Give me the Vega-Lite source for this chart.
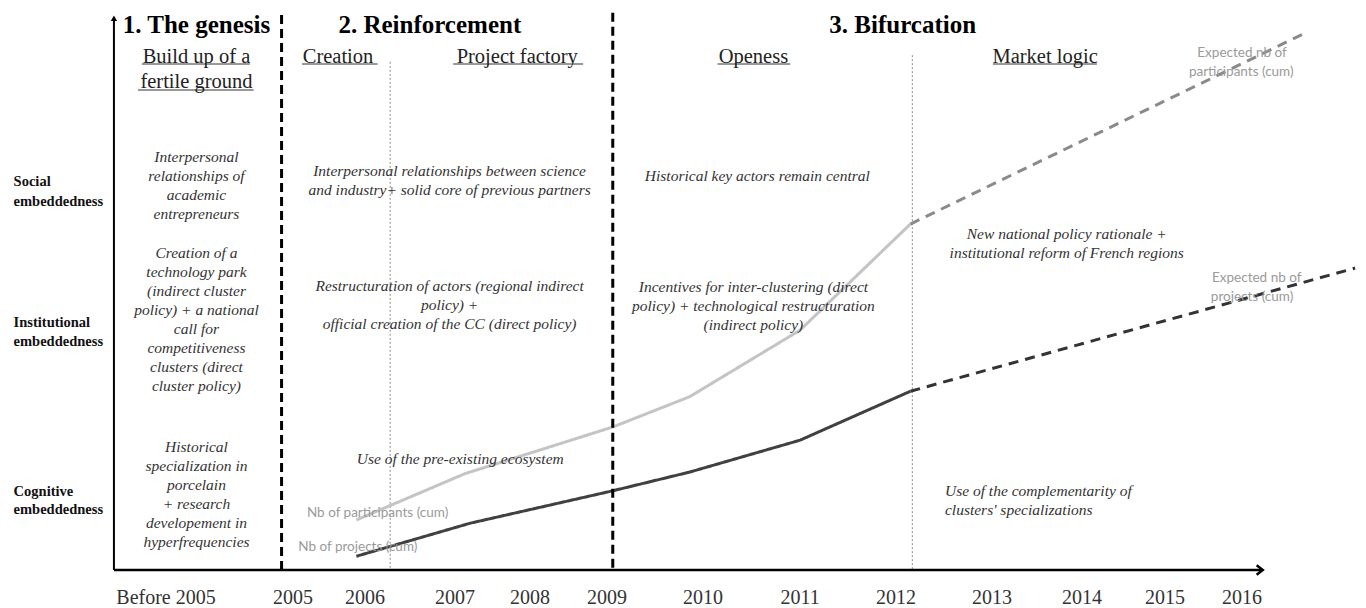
{
  "$schema": "https://vega.github.io/schema/vega-lite/v6.json",
  "width": 1366,
  "height": 608,
  "padding": 0,
  "autosize": {"type": "none"},
  "background": "white",
  "config": {"view": {"stroke": null}, "font": "Liberation Serif"},
  "datasets": {
    "series": [
      {"key": "participants", "kind": "observed", "year": 2005.88, "level": 9.1},
      {"key": "participants", "kind": "observed", "year": 2007.13, "level": 17.5},
      {"key": "participants", "kind": "observed", "year": 2009.06, "level": 26.0},
      {"key": "participants", "kind": "observed", "year": 2009.86, "level": 31.5},
      {"key": "participants", "kind": "observed", "year": 2011.0, "level": 43.6},
      {"key": "participants", "kind": "observed", "year": 2012.15, "level": 62.9},
      {"key": "participants expected", "kind": "expected", "year": 2012.15, "level": 62.9},
      {"key": "participants expected", "kind": "expected", "year": 2016.81, "level": 97.6},
      {"key": "projects", "kind": "observed", "year": 2005.88, "level": 2.5},
      {"key": "projects", "kind": "observed", "year": 2007.2, "level": 8.5},
      {"key": "projects", "kind": "observed", "year": 2009.06, "level": 14.4},
      {"key": "projects", "kind": "observed", "year": 2009.86, "level": 17.8},
      {"key": "projects", "kind": "observed", "year": 2011.0, "level": 23.6},
      {"key": "projects", "kind": "observed", "year": 2012.15, "level": 32.5},
      {"key": "projects expected", "kind": "expected", "year": 2012.15, "level": 32.5},
      {"key": "projects expected", "kind": "expected", "year": 2017.46, "level": 54.9}
    ],
    "phaseDividers": [
      {"year": 2004.91, "level": 100.9, "level2": 0},
      {"year": 2009.06, "level": 101.3, "level2": 0}
    ],
    "subDividers": [
      {"year": 2006.28, "level": 92.4, "level2": 0},
      {"year": 2012.17, "level": 93.6, "level2": 0}
    ],
    "headings": [
      {"label": "1. The genesis", "year": 2004.24, "level": 99.1},
      {"label": "2. Reinforcement", "year": 2006.72, "level": 99.1},
      {"label": "3. Bifurcation", "year": 2012.07, "level": 99.1}
    ],
    "subheads": [
      {"label": "Build up of a", "year": 2004.24, "level": 93.27},
      {"label": "fertile ground", "year": 2004.24, "level": 88.73},
      {"label": "Creation", "year": 2005.625, "level": 93.27},
      {"label": "Project factory", "year": 2007.83, "level": 93.27},
      {"label": "Openess", "year": 2010.52, "level": 93.27},
      {"label": "Market logic", "year": 2013.59, "level": 93.27}
    ],
    "underlines": [
      {"year": 2003.81, "year2": 2004.66, "level": 92.0},
      {"year": 2003.78, "year2": 2004.69, "level": 87.27},
      {"year": 2005.125, "year2": 2006.14, "level": 92.0},
      {"year": 2006.98, "year2": 2008.69, "level": 92.0},
      {"year": 2010.15, "year2": 2010.9, "level": 92.0},
      {"year": 2013.01, "year2": 2014.18, "level": 92.0}
    ],
    "rowLabels": [
      {"label": "Social", "year": 2002.8, "level": 70.55},
      {"label": "embeddedness", "year": 2002.8, "level": 66.91},
      {"label": "Institutional", "year": 2002.8, "level": 44.91},
      {"label": "embeddedness", "year": 2002.8, "level": 41.45},
      {"label": "Cognitive", "year": 2002.8, "level": 14.18},
      {"label": "embeddedness", "year": 2002.8, "level": 10.91}
    ],
    "bodyCentered": [
      {"label": "Interpersonal\nrelationships of\nacademic\nentrepreneurs", "year": 2004.24, "level": 76.36},
      {"label": "Creation of a\ntechnology park\n(indirect cluster\npolicy) + a national\ncall for\ncompetitiveness\nclusters (direct\ncluster policy)", "year": 2004.24, "level": 58.91},
      {"label": "Historical\nspecialization in\nporcelain\n+ research\ndevelopement in\nhyperfrequencies", "year": 2004.24, "level": 23.64},
      {"label": "Interpersonal relationships between science\nand industry+ solid core of previous partners", "year": 2006.94, "level": 73.82},
      {"label": "Restructuration of actors (regional indirect\npolicy) +\nofficial creation of the CC (direct policy)", "year": 2006.94, "level": 52.91},
      {"label": "Use of the pre-existing ecosystem", "year": 2007.07, "level": 21.45},
      {"label": "Historical key actors remain central", "year": 2010.56, "level": 72.91},
      {"label": "Incentives for inter-clustering (direct\npolicy) + technological restructuration\n(indirect policy)", "year": 2010.52, "level": 52.73},
      {"label": "New national policy rationale +\ninstitutional reform of French regions", "year": 2013.83, "level": 62.36}
    ],
    "bodyLeft": [
      {"label": "Use of the complementarity of\nclusters' specializations", "year": 2012.51, "level": 15.64}
    ],
    "seriesLabels": [
      {"label": "Nb of participants (cum)", "year": 2006.14, "level": 10.36},
      {"label": "Nb of projects (cum)", "year": 2005.9, "level": 4.18},
      {"label": "Expected nb of", "year": 2016.0, "level": 94.0},
      {"label": "participants (cum)", "year": 2015.99, "level": 90.5},
      {"label": "Expected nb of", "year": 2016.19, "level": 53.1},
      {"label": "projects (cum)", "year": 2016.13, "level": 49.6}
    ],
    "yearLabels": [
      {"label": "Before 2005", "year": 2004, "level": -5.1},
      {"label": "2005", "year": 2005, "level": -5.1},
      {"label": "2006", "year": 2006, "level": -5.1},
      {"label": "2007", "year": 2007, "level": -5.1},
      {"label": "2008", "year": 2008, "level": -5.1},
      {"label": "2009", "year": 2009, "level": -5.1},
      {"label": "2010", "year": 2010, "level": -5.1},
      {"label": "2011", "year": 2011, "level": -5.1},
      {"label": "2012", "year": 2012, "level": -5.1},
      {"label": "2013", "year": 2013, "level": -5.1},
      {"label": "2014", "year": 2014, "level": -5.1},
      {"label": "2015", "year": 2015, "level": -5.1},
      {"label": "2016", "year": 2016, "level": -5.1}
    ],
    "yAxis": [{"year": 2003.59, "level": 0, "level2": 100.3}],
    "xAxis": [{"year": 2003.59, "year2": 2016.25, "level": 0}],
    "yArrow": [{"year": 2003.59, "level": 100.3}],
    "xArrow": [{"year": 2016.25, "level": 0}]
  },
  "encoding": {
    "x": {
      "field": "year",
      "type": "quantitative",
      "axis": null,
      "scale": {
        "type": "linear",
        "domain": [2003, 2004, 2005, 2006, 2007, 2008, 2009, 2010, 2011, 2012, 2013, 2014, 2015, 2016, 2017.6],
        "range": [39, 166, 293, 365, 455, 530, 607, 703, 800, 896, 992, 1082, 1165, 1242, 1366],
        "zero": false,
        "nice": false
      }
    },
    "y": {
      "field": "level",
      "type": "quantitative",
      "axis": null,
      "scale": {"type": "linear", "domain": [0, 100], "range": [570, 20], "zero": false, "nice": false}
    }
  },
  "layer": [
    {
      "data": {"name": "subDividers"},
      "mark": {"type": "rule", "color": "#8a8a8a", "strokeWidth": 1, "strokeDash": [2, 2]},
      "encoding": {"y2": {"field": "level2"}}
    },
    {
      "data": {"name": "series"},
      "mark": {"type": "line", "strokeWidth": 3, "strokeCap": "butt"},
      "encoding": {
        "color": {
          "field": "key",
          "type": "nominal",
          "legend": null,
          "scale": {
            "domain": ["participants", "participants expected", "projects", "projects expected"],
            "range": ["#c4c4c4", "#8a8a8a", "#404040", "#333333"]
          }
        },
        "strokeDash": {
          "field": "kind",
          "type": "nominal",
          "legend": null,
          "scale": {"domain": ["observed", "expected"], "range": [[1, 0], [10, 7]]}
        }
      }
    },
    {
      "data": {"name": "phaseDividers"},
      "mark": {"type": "rule", "color": "#000000", "strokeWidth": 3, "strokeDash": [9, 5]},
      "encoding": {"y2": {"field": "level2"}}
    },
    {
      "data": {"name": "yAxis"},
      "mark": {"type": "rule", "color": "#000000", "strokeWidth": 2},
      "encoding": {"y2": {"field": "level2"}}
    },
    {
      "data": {"name": "xAxis"},
      "mark": {"type": "rule", "color": "#000000", "strokeWidth": 2.5},
      "encoding": {"x2": {"field": "year2"}}
    },
    {
      "data": {"name": "yArrow"},
      "mark": {"type": "point", "shape": "triangle-up", "filled": true, "color": "#000000", "size": 40, "opacity": 1}
    },
    {
      "data": {"name": "xArrow"},
      "mark": {"type": "point", "shape": "M-1,-1L0.3,0L-1,1", "filled": false, "stroke": "#000000", "strokeWidth": 2.5, "size": 90, "opacity": 1}
    },
    {
      "data": {"name": "underlines"},
      "mark": {"type": "rule", "color": "#333333", "strokeWidth": 1},
      "encoding": {"x2": {"field": "year2"}}
    },
    {
      "data": {"name": "headings"},
      "mark": {"type": "text", "font": "Liberation Serif", "fontSize": 25, "fontWeight": "bold", "color": "#000000", "align": "center", "baseline": "middle"},
      "encoding": {"text": {"field": "label"}}
    },
    {
      "data": {"name": "subheads"},
      "mark": {"type": "text", "font": "Liberation Serif", "fontSize": 20.5, "color": "#222222", "align": "center", "baseline": "middle"},
      "encoding": {"text": {"field": "label"}}
    },
    {
      "data": {"name": "rowLabels"},
      "mark": {"type": "text", "font": "Liberation Serif", "fontSize": 14.5, "fontWeight": "bold", "color": "#111111", "align": "left", "baseline": "middle"},
      "encoding": {"text": {"field": "label"}}
    },
    {
      "data": {"name": "bodyCentered"},
      "mark": {"type": "text", "font": "Liberation Serif", "fontSize": 15.5, "fontStyle": "italic", "color": "#333333", "align": "center", "baseline": "top", "lineBreak": "\n", "lineHeight": 19},
      "encoding": {"text": {"field": "label"}}
    },
    {
      "data": {"name": "bodyLeft"},
      "mark": {"type": "text", "font": "Liberation Serif", "fontSize": 15.5, "fontStyle": "italic", "color": "#333333", "align": "left", "baseline": "top", "lineBreak": "\n", "lineHeight": 19},
      "encoding": {"text": {"field": "label"}}
    },
    {
      "data": {"name": "seriesLabels"},
      "mark": {"type": "text", "font": "Lato", "fontSize": 13.5, "color": "#9a9a9a", "align": "center", "baseline": "middle"},
      "encoding": {"text": {"field": "label"}}
    },
    {
      "data": {"name": "yearLabels"},
      "mark": {"type": "text", "font": "Liberation Serif", "fontSize": 20, "color": "#333333", "align": "center", "baseline": "middle"},
      "encoding": {"text": {"field": "label"}}
    }
  ]
}
